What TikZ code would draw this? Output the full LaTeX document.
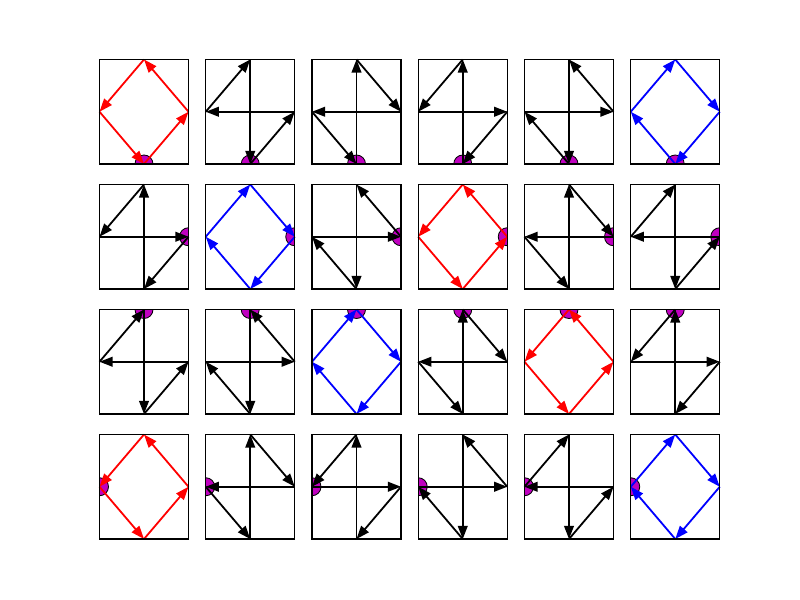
\documentclass[tikz,border=0pt]{standalone}
\usetikzlibrary{arrows.meta}
\definecolor{mplm}{rgb}{0.75,0,0.75}
\tikzset{
  frame/.style={draw=black,line width=0.8pt},
  startdot/.style={fill=mplm,draw=black,line width=0.6pt},
  conn/.style={line width=1.3pt,-{Triangle[length=9.5pt,width=7pt]}}
}
\begin{document}
\begin{tikzpicture}[x=0.01in,y=-0.01in]
\useasboundingbox (0,0) rectangle (800,600);
\foreach \r/\c/\a/\b/\cc/\d/\col in {
 0/0/B/R/T/L/red, 0/1/B/R/L/T/black, 0/2/B/T/R/L/black, 0/3/B/T/L/R/black, 0/4/B/L/R/T/black, 0/5/B/L/T/R/blue,
 1/0/R/B/T/L/black, 1/1/R/B/L/T/blue, 1/2/R/T/B/L/black, 1/3/R/T/L/B/red, 1/4/R/L/B/T/black, 1/5/R/L/T/B/black,
 2/0/T/B/R/L/black, 2/1/T/B/L/R/black, 2/2/T/R/B/L/blue, 2/3/T/R/L/B/black, 2/4/T/L/B/R/red, 2/5/T/L/R/B/black,
 3/0/L/B/R/T/red, 3/1/L/B/T/R/black, 3/2/L/R/B/T/black, 3/3/L/R/T/B/black, 3/4/L/T/B/R/black, 3/5/L/T/R/B/blue}{
  \pgfmathsetmacro\xo{99.5+106.25*\c}
  \pgfmathsetmacro\yo{59.5+125*\r}
  \coordinate (q-NW) at (\xo,\yo);
  \coordinate (q-SE) at (\xo+89,\yo+104.5);
  \coordinate (q-T) at (\xo+44.5,\yo);
  \coordinate (q-B) at (\xo+44.5,\yo+104.5);
  \coordinate (q-L) at (\xo,\yo+52.25);
  \coordinate (q-R) at (\xo+89,\yo+52.25);
  \begin{scope}
    \clip (q-NW) rectangle (q-SE);
    \path[startdot] (q-\a) circle[radius=0.09in];
  \end{scope}
  \draw[conn,draw=\col,fill=\col] (q-\a) -- (q-\b);
  \draw[conn,draw=\col,fill=\col] (q-\b) -- (q-\cc);
  \draw[conn,draw=\col,fill=\col] (q-\cc) -- (q-\d);
  \draw[conn,draw=\col,fill=\col] (q-\d) -- (q-\a);
  \draw[frame] (q-NW) rectangle (q-SE);
}
\end{tikzpicture}
\end{document}
